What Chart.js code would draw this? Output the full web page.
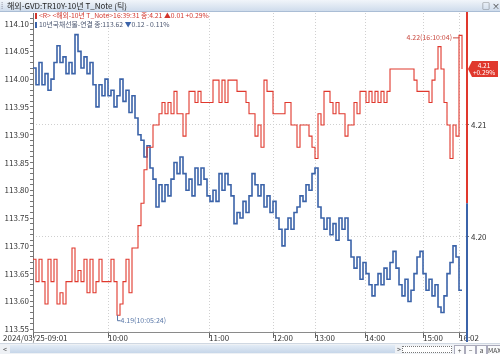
<!DOCTYPE html>
<html>
<head>
<meta charset="utf-8">
<script src="https://cdn.jsdelivr.net/npm/chart.js@4.4.1/dist/chart.umd.min.js"></script>
<style>
body{margin:0;background:#fff;font-family:"Noto Sans CJK KR","Noto Sans",sans-serif;}
#wrap{position:relative;width:500px;height:354px;overflow:hidden;}
#c{position:absolute;left:0;top:0;}
.bar{position:absolute;left:0;top:0;width:500px;height:11px;background:linear-gradient(#f1f5fa,#cfdcec);border-bottom:1px solid #aabdd5;font-size:8px;line-height:11px;color:#222;white-space:nowrap;}
.bar .t{position:absolute;left:7px;top:0;}
.bar .g{position:absolute;left:1px;top:0;color:#889;}
.bar .b{position:absolute;top:0;color:#333;font-size:8px;}
.leg{position:absolute;left:35px;font-size:6.8px;line-height:9px;white-space:nowrap;}
.leg i{display:inline-block;width:2px;height:6px;margin-right:2px;vertical-align:-0.5px;}
#l1{top:11px;color:#d2372e;}
#l1 i{background:#d2372e;}
#l2{top:20px;color:#4b5670;}
#l2 i{background:#3b63a9;}
#l2 b{color:#3b63a9;font-weight:normal;}
#xfirst{position:absolute;left:3px;top:333px;font-size:8px;line-height:9px;color:#333;}
.foot{position:absolute;left:0;top:343px;width:500px;height:11px;background:#eef1f5;border-top:1px solid #d0d8e2;font-size:7px;line-height:10px;color:#444;}
.foot .track{position:absolute;left:10px;top:1px;width:385px;height:8px;background:linear-gradient(#e3ecf6,#c6d6e9);}
.foot .sl{position:absolute;left:402px;top:2px;width:48px;height:5px;border:1px dotted #777;background:#fff;}
.foot .k{position:absolute;top:1px;height:8px;border:1px solid #aab;background:#fafbfc;font-size:6.5px;line-height:8px;text-align:center;}
</style>
</head>
<body>
<div id="wrap">
<canvas id="c" width="500" height="354"></canvas>
<div class="bar"><span class="g">⁞</span><span class="t">해외-GVD:TR10Y-10년 T_Note (틱)</span><span class="b" style="left:482px">□</span><span class="b" style="left:492px">×</span></div>
<div class="leg" id="l1"><i></i>&lt;R&gt; &lt;해외-10년 T_Note&gt;16:39:31 종:4.21 ▲0.01 +0.29%</div>
<div class="leg" id="l2"><i></i>10년국채선물-연결 종:113.62 <b>▼</b>0.12 - 0.11%</div>
<div id="xfirst">2024/03/25-09:01</div>
<div class="foot">
  <span style="position:absolute;left:3px;top:0">&lt;</span>
  <div class="track"></div>
  <span style="position:absolute;left:397px;top:0">&gt;</span>
  <div class="sl"></div>
  <div class="k" style="left:454px;width:9px">+</div>
  <div class="k" style="left:465px;width:9px">−</div>
  <div class="k" style="left:476px;width:9px">a</div>
  <div class="k" style="left:487px;width:12px">MAX</div>
</div>
</div>
<script>
// 10년국채선물-연결 (left axis) - tick samples
var priceVals = [
  114.02,113.99,114.03,113.99,114.01,113.98,114.00,114.03,114.06,114.03,
  114.04,114.01,114.03,114.01,114.08,114.05,114.02,114.04,114.01,114.03,
  113.99,113.95,113.99,113.97,114.00,113.97,113.98,113.95,113.97,114.00,
  113.96,113.98,113.94,113.97,113.93,113.90,113.89,113.86,113.88,113.84,
  113.82,113.77,113.81,113.78,113.81,113.79,113.82,113.85,113.83,113.86,
  113.83,113.80,113.82,113.79,113.84,113.81,113.84,113.82,113.79,113.78,
  113.80,113.78,113.83,113.80,113.83,113.81,113.79,113.74,113.76,113.75,
  113.78,113.76,113.79,113.83,113.81,113.79,113.81,113.77,113.79,113.76,
  113.78,113.75,113.73,113.70,113.73,113.75,113.73,113.76,113.77,113.79,
  113.78,113.81,113.80,113.83,113.84,113.77,113.75,113.73,113.75,113.72,
  113.74,113.71,113.75,113.73,113.75,113.71,113.68,113.66,113.68,113.64,
  113.67,113.65,113.63,113.61,113.63,113.65,113.63,113.66,113.64,113.67,
  113.69,113.66,113.63,113.61,113.64,113.60,113.62,113.65,113.68,113.69,
  113.65,113.62,113.64,113.61,113.63,113.59,113.58,113.61,113.65,113.67,
  113.70,113.68,113.62,113.62
];
// 해외-10년 T_Note yield (right axis)
var yieldVals = [
  4.198,4.196,4.198,4.196,4.194,4.198,4.196,4.198,4.194,4.195,
  4.194,4.196,4.196,4.199,4.196,4.197,4.196,4.198,4.195,4.198,
  4.195,4.196,4.198,4.196,4.196,4.196,4.198,4.196,4.193,4.194,
  4.196,4.198,4.195,4.199,4.199,4.201,4.203,4.206,4.208,4.208,
  4.210,4.210,4.211,4.212,4.211,4.212,4.211,4.213,4.211,4.211,
  4.209,4.211,4.213,4.213,4.212,4.213,4.212,4.212,4.212,4.212,
  4.214,4.214,4.212,4.214,4.212,4.214,4.214,4.214,4.213,4.213,
  4.213,4.212,4.211,4.211,4.209,4.210,4.208,4.214,4.213,4.213,
  4.211,4.211,4.211,4.211,4.212,4.212,4.210,4.210,4.208,4.210,
  4.210,4.210,4.209,4.208,4.207,4.211,4.210,4.213,4.213,4.212,
  4.211,4.212,4.211,4.211,4.209,4.210,4.210,4.212,4.211,4.213,
  4.213,4.212,4.213,4.212,4.213,4.212,4.213,4.212,4.213,4.215,
  4.215,4.215,4.215,4.215,4.215,4.215,4.215,4.214,4.213,4.213,
  4.213,4.213,4.212,4.214,4.215,4.217,4.215,4.212,4.210,4.207,
  4.210,4.209,4.218,4.215
];
var xTickIdx = [0, 25, 58.7, 80, 94, 110.7, 130, 142];
var xTickLabels = ['2024/03/25-09:01', '10:00', '11:00', '12:00', '13:00', '14:00', '15:00', '16:02'];
var leftTickLabels = [113.55, 113.60, 113.65, 113.70, 113.75, 113.80, 113.85, 113.90, 113.95, 114.00, 114.05, 114.10];
var rightTickLabels = [4.20, 4.21];
var hiIdx = 142, loIdx = 28;

var RED = '#e0382d', BLUE = '#3b63a9';
Chart.defaults.font.family = '"Noto Sans CJK KR", "Noto Sans", sans-serif';
Chart.defaults.font.size = 8;
Chart.defaults.color = '#333';

var overlay = {
  id: 'overlay',
  afterDatasetsDraw: function (chart) {
    var ctx = chart.ctx, a = chart.chartArea;
    var x = chart.scales.x, yR = chart.scales.yR;
    ctx.save();
    // right edge line, red / blue
    var ySplit = yR.getPixelForValue(4.203);
    ctx.lineWidth = 2;
    ctx.strokeStyle = RED;
    ctx.beginPath(); ctx.moveTo(a.right + 1, a.top - 1); ctx.lineTo(a.right + 1, ySplit); ctx.stroke();
    ctx.strokeStyle = BLUE;
    ctx.beginPath(); ctx.moveTo(a.right + 1, ySplit); ctx.lineTo(a.right + 1, a.bottom + 10); ctx.stroke();

    // high marker
    ctx.lineWidth = 1;
    var hx = x.getPixelForValue(hiIdx), hy = yR.getPixelForValue(yieldVals[hiIdx]) + 2;
    ctx.strokeStyle = '#c94a40';
    ctx.beginPath(); ctx.moveTo(hx - 6, hy + 0.5); ctx.lineTo(hx, hy + 0.5); ctx.stroke();
    ctx.fillStyle = '#c94a40';
    ctx.font = '7px "Noto Sans CJK KR", "Noto Sans", sans-serif';
    ctx.textAlign = 'right'; ctx.textBaseline = 'middle';
    ctx.fillText('4.22(16:10:04)', hx - 7, hy);

    // low marker
    var lx = x.getPixelForValue(loIdx) + 0.5, ly = yR.getPixelForValue(yieldVals[loIdx]);
    ctx.strokeStyle = '#5a78a8';
    ctx.beginPath(); ctx.moveTo(lx, ly); ctx.lineTo(lx, ly + 5.5); ctx.lineTo(lx + 3, ly + 5.5); ctx.stroke();
    ctx.fillStyle = '#5a78a8';
    ctx.textAlign = 'left';
    ctx.fillText('4.19(10:05:24)', lx + 3, ly + 5);

    // current value box
    var py = yR.getPixelForValue(yieldVals[yieldVals.length - 1]);
    ctx.fillStyle = RED;
    ctx.beginPath();
    ctx.moveTo(a.right + 2, py);
    ctx.lineTo(a.right + 6, py - 8);
    ctx.lineTo(498, py - 8);
    ctx.lineTo(498, py + 8);
    ctx.lineTo(a.right + 6, py + 8);
    ctx.closePath(); ctx.fill();
    ctx.fillStyle = '#fff';
    ctx.textAlign = 'center';
    ctx.font = '6.5px "Noto Sans CJK KR", "Noto Sans", sans-serif';
    ctx.fillText('4.21', 484, py - 3.5);
    ctx.fillText('+0.29%', 484, py + 3.5);
    ctx.restore();
  }
};

var idx = priceVals.map(function (v, i) { return i; });

new Chart(document.getElementById('c'), {
  type: 'line',
  data: {
    labels: idx,
    datasets: [{
      label: '해외-10년 T_Note',
      data: yieldVals.map(function (v, i) { return {x: i, y: v}; }),
      yAxisID: 'yR',
      borderColor: RED,
      borderWidth: 1.1,
      stepped: true,
      pointRadius: 0
    }, {
      label: '10년국채선물-연결',
      data: priceVals.map(function (v, i) { return {x: i, y: v}; }),
      yAxisID: 'yL',
      borderColor: BLUE,
      borderWidth: 1.6,
      stepped: true,
      pointRadius: 0
    }]
  },
  options: {
    responsive: false,
    animation: false,
    layout: {padding: {top: 13, left: 0, right: 0, bottom: 0}},
    plugins: {legend: {display: false}, tooltip: {enabled: false}},
    scales: {
      x: {
        type: 'linear', min: 0, max: 144.33,
        afterBuildTicks: function (s) { s.ticks = xTickIdx.map(function (v) { return {value: v}; }); },
        afterFit: function (s) { s.height = 22; },
        ticks: {
          autoSkip: false, maxRotation: 0, align: 'start', padding: -5,
          callback: function (v, i) { return i === 0 ? '' : xTickLabels[i]; }
        },
        grid: {color: '#d0d0d0', tickColor: '#666', tickLength: 6},
        border: {color: '#8a8a8a', dash: [1, 2]}
      },
      yL: {
        position: 'left', min: 113.545, max: 114.119,
        afterBuildTicks: function (s) {
          var t = [];
          for (var k = 0; k <= 56; k++) t.push({value: +(113.55 + k * 0.01).toFixed(2)});
          s.ticks = t;
        },
        afterFit: function (s) { s.width = 33; },
        ticks: {
          autoSkip: false, padding: 1,
          callback: function (v) {
            return leftTickLabels.indexOf(+v.toFixed(2)) >= 0 ? v.toFixed(2) : '';
          }
        },
        grid: {drawOnChartArea: false, tickLength: 3, tickColor: '#777'},
        border: {color: '#777'}
      },
      yR: {
        position: 'right', min: 4.1915, max: 4.2200,
        afterBuildTicks: function (s) { s.ticks = rightTickLabels.map(function (v) { return {value: v}; }); },
        afterFit: function (s) { s.width = 34; },
        ticks: {autoSkip: false, padding: 2, callback: function (v) { return v.toFixed(2); }},
        grid: {color: '#cfcfcf', tickColor: '#777', tickLength: 3},
        border: {display: false, dash: [1, 2]}
      }
    }
  },
  plugins: [overlay]
});
</script>
</body>
</html>
